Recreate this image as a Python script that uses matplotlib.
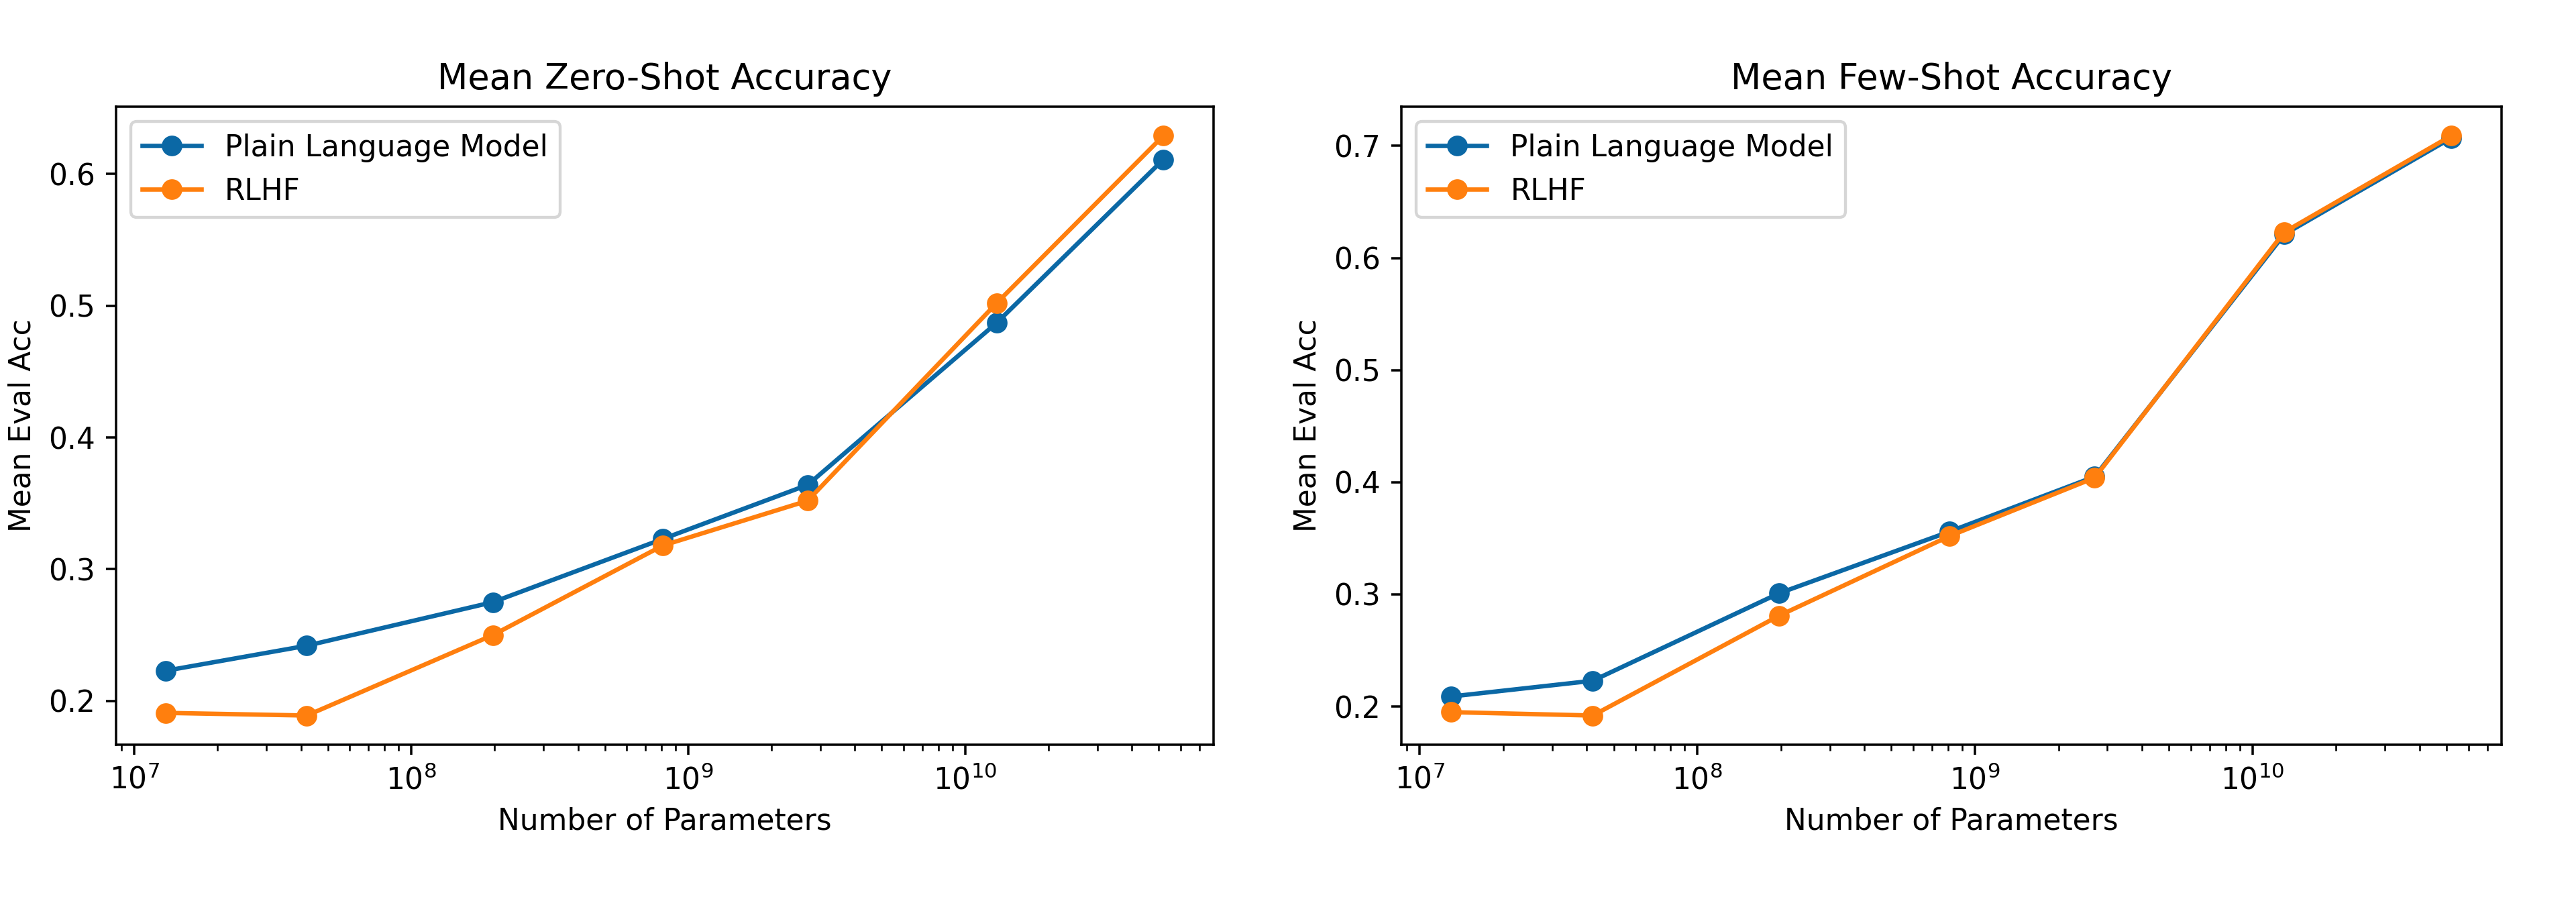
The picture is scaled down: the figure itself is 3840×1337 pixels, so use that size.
import numpy as np
import matplotlib
matplotlib.use("Agg")
import matplotlib.pyplot as plt

# ── Data ─────────────────────────────────────────────────────────────────────
n_params = [1.3e7, 4.2e7, 1.97e8, 8.1e8, 2.7e9, 1.3e10, 5.2e10]

zero_shot_plain = [0.223, 0.242, 0.275, 0.323, 0.364, 0.487, 0.611]
zero_shot_rlhf  = [0.191, 0.189, 0.250, 0.318, 0.352, 0.502, 0.629]

few_shot_plain  = [0.209, 0.223, 0.301, 0.356, 0.405, 0.621, 0.707]
few_shot_rlhf   = [0.195, 0.192, 0.281, 0.352, 0.404, 0.623, 0.709]

titles = ["Mean Zero-Shot Accuracy", "Mean Few-Shot Accuracy"]
series_names = ["Plain Language Model", "RLHF"]

BLUE   = "#0b68a5"
ORANGE = "#ff7f0e"

# ── Plot ─────────────────────────────────────────────────────────────────────
DPI = 316
fig = plt.figure(figsize=(3840 / DPI, 1337 / DPI), dpi=DPI)
axes = [fig.add_axes([0.045, 0.17, 0.426, 0.711]),
        fig.add_axes([0.544, 0.17, 0.427, 0.711])]

panels = [(zero_shot_plain, zero_shot_rlhf), (few_shot_plain, few_shot_rlhf)]

for ax, title, (plain, rlhf) in zip(axes, titles, panels):
    ax.plot(n_params, plain, marker="o", color=BLUE, label=series_names[0])
    ax.plot(n_params, rlhf, marker="o", color=ORANGE, label=series_names[1])
    ax.set_xscale("log")
    ax.set_title(title)
    ax.set_xlabel("Number of Parameters")
    ax.set_ylabel("Mean Eval Acc")
    ax.legend(loc="upper left")

fig.savefig("out.png", dpi=DPI)
